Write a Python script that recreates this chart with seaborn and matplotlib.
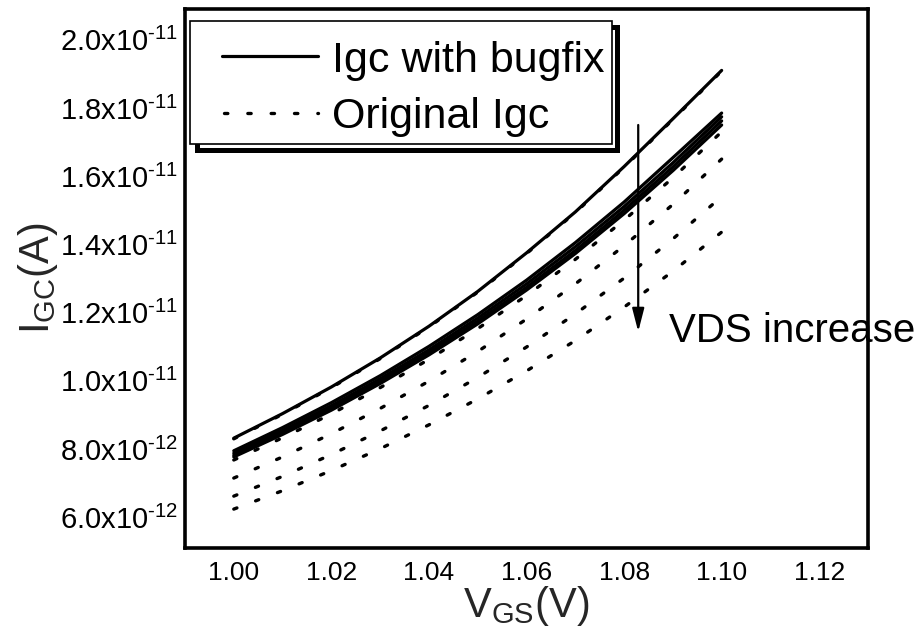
import matplotlib
matplotlib.use("Agg")
import matplotlib.pyplot as plt
import matplotlib.ticker as mticker
from matplotlib.lines import Line2D
from matplotlib.patches import Rectangle
import seaborn as sns

# ---------------- data ----------------
vgs = [1.00, 1.01, 1.02, 1.03, 1.04, 1.05, 1.06, 1.07, 1.08, 1.09, 1.10]

# Igc with bugfix (solid), one curve per VDS
bugfix_1 = [8.32e-12, 9.04e-12, 9.82e-12, 10.67e-12, 11.60e-12, 12.62e-12, 13.75e-12, 14.95e-12, 16.28e-12, 17.68e-12, 19.10e-12]
bugfix_2 = [7.95e-12, 8.63e-12, 9.36e-12, 10.15e-12, 11.01e-12, 11.94e-12, 12.95e-12, 14.05e-12, 15.24e-12, 16.54e-12, 17.85e-12]
bugfix_3 = [7.88e-12, 8.55e-12, 9.27e-12, 10.06e-12, 10.91e-12, 11.84e-12, 12.84e-12, 13.93e-12, 15.11e-12, 16.39e-12, 17.74e-12]
bugfix_4 = [7.82e-12, 8.48e-12, 9.20e-12, 9.98e-12, 10.83e-12, 11.75e-12, 12.74e-12, 13.82e-12, 15.00e-12, 16.27e-12, 17.62e-12]
bugfix_5 = [7.77e-12, 8.43e-12, 9.14e-12, 9.92e-12, 10.76e-12, 11.67e-12, 12.66e-12, 13.73e-12, 14.90e-12, 16.16e-12, 17.50e-12]

# Original Igc (dotted), one curve per VDS
orig_1 = [8.30e-12, 9.02e-12, 9.80e-12, 10.65e-12, 11.58e-12, 12.60e-12, 13.73e-12, 14.93e-12, 16.26e-12, 17.66e-12, 19.08e-12]
orig_2 = [7.68e-12, 8.33e-12, 9.03e-12, 9.80e-12, 10.63e-12, 11.53e-12, 12.50e-12, 13.56e-12, 14.71e-12, 15.95e-12, 17.30e-12]
orig_3 = [7.15e-12, 7.77e-12, 8.45e-12, 9.19e-12, 9.99e-12, 10.86e-12, 11.81e-12, 12.84e-12, 13.96e-12, 15.17e-12, 16.50e-12]
orig_4 = [6.62e-12, 7.20e-12, 7.84e-12, 8.53e-12, 9.28e-12, 10.10e-12, 10.99e-12, 11.96e-12, 13.01e-12, 14.16e-12, 15.40e-12]
orig_5 = [6.24e-12, 6.78e-12, 7.37e-12, 8.01e-12, 8.71e-12, 9.47e-12, 10.29e-12, 11.18e-12, 12.16e-12, 13.21e-12, 14.36e-12]

x_ticks = [1.00, 1.02, 1.04, 1.06, 1.08, 1.10, 1.12]
x_tick_labels = ["1.00", "1.02", "1.04", "1.06", "1.08", "1.10", "1.12"]
y_ticks = [6.0e-12, 8.0e-12, 1.0e-11, 1.2e-11, 1.4e-11, 1.6e-11, 1.8e-11, 2.0e-11]
y_tick_labels = ["6.0x10$^{\u201012}$", "8.0x10$^{\u201012}$", "1.0x10$^{\u201011}$", "1.2x10$^{\u201011}$",
                 "1.4x10$^{\u201011}$", "1.6x10$^{\u201011}$", "1.8x10$^{\u201011}$", "2.0x10$^{\u201011}$"]
legend_labels = ["Igc with bugfix", "Original Igc"]

# ---------------- style ----------------
sns.set_theme(style="white")
plt.rcParams["font.family"] = ["Liberation Sans", "DejaVu Sans"]
plt.rcParams["mathtext.fontset"] = "custom"
plt.rcParams["mathtext.rm"] = "Liberation Sans"
plt.rcParams["mathtext.it"] = "Liberation Sans:italic"
plt.rcParams["mathtext.bf"] = "Liberation Sans:bold"
plt.rcParams["mathtext.default"] = "regular"

W, H = 918, 644
fig = plt.figure(figsize=(W / 100, H / 100), dpi=100)
fig.patch.set_facecolor("white")
ax = fig.add_axes([185 / W, 1 - 548 / H, 683 / W, 539 / H])
ax.set_facecolor("white")

solid_lw = 2.3
dot_lw = 2.4
dot_style = (0, (1.0, 6.0))

for ys in [bugfix_1, bugfix_2, bugfix_3, bugfix_4, bugfix_5]:
    sns.lineplot(x=vgs, y=ys, ax=ax, color="black", linewidth=solid_lw,
                 linestyle="-", legend=False, zorder=3)
for ys in [orig_1, orig_2, orig_3, orig_4, orig_5]:
    sns.lineplot(x=vgs, y=ys, ax=ax, color="black", linewidth=dot_lw,
                 linestyle=dot_style, dash_capstyle="round", legend=False, zorder=3)

ax.set_xlim(0.99, 1.13)
ax.set_ylim(5.1e-12, 2.09e-11)

ax.set_xticks(x_ticks)
ax.set_xticklabels(x_tick_labels)
ax.set_yticks(y_ticks)
ax.set_yticklabels(y_tick_labels)
ax.xaxis.set_minor_locator(mticker.MultipleLocator(0.01))
ax.yaxis.set_minor_locator(mticker.MultipleLocator(1e-12))
ax.tick_params(axis="both", which="major", direction="in", length=9, width=2.2,
               colors="black")
ax.tick_params(axis="both", which="minor", direction="in", length=5, width=2.2,
               colors="black")
ax.tick_params(axis="x", which="major", labelsize=19, pad=9)
ax.tick_params(axis="y", which="major", labelsize=21, pad=5)
for sp in ax.spines.values():
    sp.set_visible(True)
    sp.set_color("black")
    sp.set_linewidth(2.6)

ax.set_xlabel("V$_{GS}$(V)", fontsize=30, labelpad=0)
ax.set_ylabel("I$_{GC}$(A)", fontsize=30, labelpad=0)

# arrow and annotation
ax.annotate("", xy=(1.0829, 1.144e-11), xytext=(1.0829, 1.75e-11),
            arrowprops=dict(arrowstyle="-|>,head_length=0.7,head_width=0.18",
                            color="black", lw=1.6, shrinkA=0, shrinkB=0,
                            mutation_scale=20), zorder=4)
ax.text(1.0892, 1.115e-11, "VDS increase", fontsize=29, ha="left", va="baseline",
        color="black", zorder=6, clip_on=False)

# legend (Origin style box with offset frame), placed in pixel coordinates
def fx(px):
    return px / W

def fy(py):
    return 1 - py / H

tf = fig.transFigure
shadow = Rectangle((fx(197), fy(150)), fx(617) - fx(197), fy(27) - fy(150),
                   transform=tf, facecolor="white", edgecolor="black",
                   linewidth=3.6, zorder=2.05, clip_on=False)
box = Rectangle((fx(190), fy(144)), fx(612) - fx(190), fy(21) - fy(144),
                transform=tf, facecolor="white", edgecolor="black",
                linewidth=1.2, zorder=2.1, clip_on=False)
ax.add_patch(shadow)
ax.add_patch(box)
ax.add_line(Line2D([fx(222), fx(318)], [fy(56), fy(56)], transform=tf, color="black",
                   lw=solid_lw, zorder=2.2, clip_on=False))
ax.add_line(Line2D([fx(224), fx(318)], [fy(113), fy(113)], transform=tf, color="black",
                   lw=dot_lw, linestyle=dot_style, dash_capstyle="round",
                   zorder=2.2, clip_on=False))
ax.text(fx(332), fy(72), legend_labels[0], transform=tf, fontsize=31,
        ha="left", va="baseline", color="black", zorder=2.2, clip_on=False)
ax.text(fx(332), fy(128), legend_labels[1], transform=tf, fontsize=31,
        ha="left", va="baseline", color="black", zorder=2.2, clip_on=False)

fig.savefig("out.png", dpi=100, facecolor="white")
